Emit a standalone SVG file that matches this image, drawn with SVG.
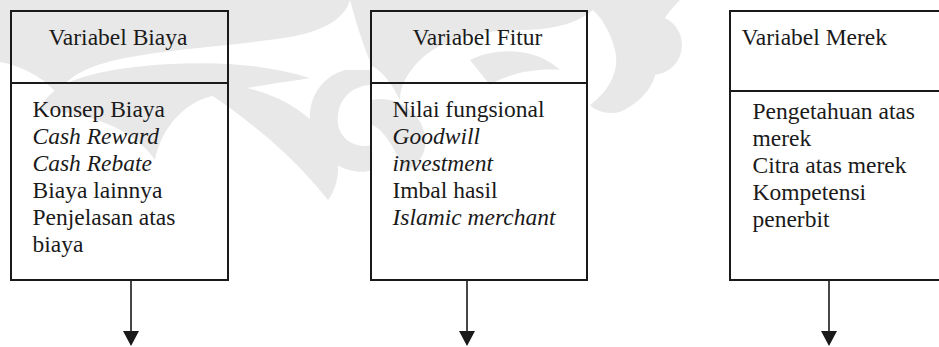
<svg xmlns="http://www.w3.org/2000/svg" width="939" height="347" viewBox="0 0 939 347">
<style>
.box{fill:none;stroke:#1a1a1a;stroke-width:2}
.title,.item{font-family:"Liberation Serif","Times New Roman",serif;font-size:23.5px;fill:#1a1a1a}
.it{font-style:italic}
.conn{stroke:#1a1a1a;stroke-width:1.6;fill:none}
.wm{fill:#e8e8e8}
</style>
<rect width="939" height="347" fill="#ffffff"/>
<g id="watermark">
<path class="wm" d="M0,0 H350 C345,18 325,30 295,36 C245,45 175,48 125,58 C85,66 65,78 58,95 C45,78 22,66 0,62 Z"/>
<path class="wm" d="M40,110 C50,80 100,68 170,64 C225,61 270,66 310,78 C290,82 230,88 200,100 C175,112 160,135 155,160 C135,130 90,112 40,110 Z"/>
<path class="wm" d="M195,84 C255,80 310,105 335,150 C342,170 336,190 328,200 C300,165 265,130 195,84 Z"/>
<path class="wm" d="M345,70 C310,80 300,120 320,150 C335,170 360,175 372,170 L372,145 C352,150 335,135 338,115 C340,95 356,85 372,85 L372,70 Z"/>
<path class="wm" d="M350,0 H600 C590,20 560,30 520,30 C480,30 440,40 420,60 C405,75 400,88 400,100 C390,80 380,70 372,66 C365,50 358,30 350,0 Z"/>
<path class="wm" d="M372,100 C395,95 420,110 425,135 C428,150 420,165 405,172 C395,150 385,130 372,125 Z"/>
<path class="wm" d="M470,60 C500,45 540,50 560,70 C540,68 510,72 490,85 Z"/>
<path class="wm" d="M600,0 H680 C660,20 650,40 655,60 C660,80 645,100 620,112 C605,115 595,110 590,105 C610,90 620,70 615,50 C610,30 600,15 590,8 Z"/>
<circle class="wm" cx="652" cy="45" r="30"/>
</g>
<g id="node-biaya">
<rect class="box" x="11" y="11" width="217" height="269"/>
<line class="box" x1="11" y1="83" x2="228" y2="83"/>
<text class="title" x="48.5" y="45">Variabel Biaya</text>
<text class="item" x="32.5" y="116.5">Konsep Biaya</text>
<text class="item it" x="32.5" y="143.5">Cash Reward</text>
<text class="item it" x="32.5" y="170.5">Cash Rebate</text>
<text class="item" x="32.5" y="197.5">Biaya lainnya</text>
<text class="item" x="32.5" y="224.5">Penjelasan atas</text>
<text class="item" x="32.5" y="251.5">biaya</text>
</g>
<g id="node-fitur">
<rect class="box" x="371" y="11" width="216" height="269"/>
<line class="box" x1="371" y1="83" x2="587" y2="83"/>
<text class="title" x="412.5" y="45">Variabel Fitur</text>
<text class="item" x="392.5" y="116.5">Nilai fungsional</text>
<text class="item it" x="392.5" y="143.5">Goodwill</text>
<text class="item it" x="392.5" y="170.5">investment</text>
<text class="item" x="392.5" y="197.5">Imbal hasil</text>
<text class="item it" x="392.5" y="224.5">Islamic merchant</text>
</g>
<g id="node-merek">
<rect class="box" x="730" y="11" width="217" height="269"/>
<line class="box" x1="730" y1="91" x2="947" y2="91"/>
<text class="title" x="741.5" y="45">Variabel Merek</text>
<text class="item" x="752.5" y="118.5">Pengetahuan atas</text>
<text class="item" x="752.5" y="145.5">merek</text>
<text class="item" x="752.5" y="172.5">Citra atas merek</text>
<text class="item" x="752.5" y="199.5">Kompetensi</text>
<text class="item" x="752.5" y="226.5">penerbit</text>
</g>
<g id="connectors">
<line class="conn" x1="131" y1="281" x2="131" y2="332"/>
<path d="M123,331 L139,331 L131,346 Z" fill="#1a1a1a"/>
<line class="conn" x1="467" y1="281" x2="467" y2="332"/>
<path d="M459,331 L475,331 L467,346 Z" fill="#1a1a1a"/>
<line class="conn" x1="829" y1="281" x2="829" y2="332"/>
<path d="M821,331 L837,331 L829,346 Z" fill="#1a1a1a"/>
</g>
</svg>
